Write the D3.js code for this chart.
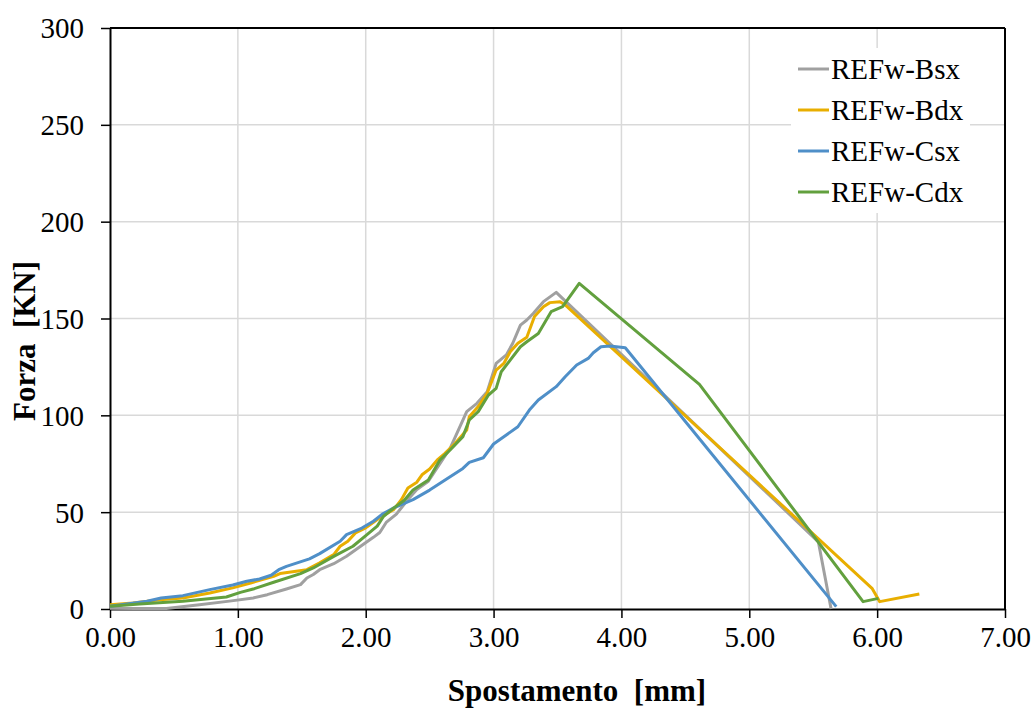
<!DOCTYPE html>
<html>
<head>
<meta charset="utf-8">
<script src="https://cdn.jsdelivr.net/npm/d3@7"></script>
<style>
  html, body { margin: 0; padding: 0; background: #fff; }
  svg { display: block; font-family: "Liberation Serif", "Times New Roman", serif; }
</style>
</head>
<body>
<svg id="chart" width="1035" height="708"></svg>
<script>
// Load–displacement curves of the four REFw specimens
const seriesNames = ["REFw-Bsx", "REFw-Bdx", "REFw-Csx", "REFw-Cdx"];
const seriesColors = ["#A0A0A0", "#E8AE00", "#4F8FC8", "#62A03E"];

const bsxX = [0, 0.20, 0.44, 0.70, 0.95, 1.12, 1.23, 1.38, 1.49, 1.54, 1.59, 1.64, 1.75, 1.85, 1.96, 2.06, 2.11, 2.16, 2.24, 2.33, 2.40, 2.49, 2.53, 2.66, 2.79, 2.87, 2.95, 3.02, 3.10, 3.15, 3.21, 3.26, 3.31, 3.39, 3.49, 5.54, 5.64];
const bsxY = [0.4, 0.2, 0.3, 2.2, 4.2, 5.7, 7.4, 10.3, 12.6, 16.0, 17.8, 20.3, 23.4, 27.2, 32.4, 37.0, 39.5, 44.7, 49.0, 56.5, 61.7, 66.0, 70.0, 83.0, 101.9, 106.2, 112.2, 126.8, 131.2, 137.2, 146.6, 149.2, 152.6, 158.7, 163.5, 34.7, 0];

const bdxX = [0, 0.18, 0.39, 0.57, 0.78, 0.96, 1.10, 1.28, 1.33, 1.54, 1.64, 1.75, 1.80, 1.86, 1.92, 2.00, 2.11, 2.22, 2.28, 2.33, 2.40, 2.44, 2.50, 2.56, 2.62, 2.70, 2.79, 2.81, 2.88, 2.95, 3.02, 3.08, 3.13, 3.19, 3.26, 3.32, 3.39, 3.44, 3.52, 3.56, 5.96, 6.02, 6.33];
const bdxY = [2.2, 3.1, 4.8, 5.7, 8.3, 10.9, 13.4, 16.9, 18.3, 20.3, 23.8, 28.1, 32.4, 35.0, 39.3, 41.9, 47.1, 51.4, 56.6, 62.5, 65.5, 69.3, 72.3, 77.0, 80.4, 85.6, 92.4, 99.3, 104.5, 111.4, 123.4, 126.8, 132.8, 137.2, 140.3, 151.0, 156.1, 158.2, 158.7, 157.0, 10.7, 3.8, 7.7];

const csxX = [0, 0.29, 0.40, 0.57, 0.78, 0.96, 1.07, 1.17, 1.26, 1.32, 1.38, 1.56, 1.64, 1.80, 1.85, 1.97, 2.06, 2.13, 2.22, 2.37, 2.50, 2.76, 2.81, 2.92, 3.00, 3.19, 3.28, 3.35, 3.49, 3.56, 3.65, 3.74, 3.78, 3.84, 3.91, 4.03, 5.68];
const csxY = [1.4, 4.0, 5.7, 6.9, 10.0, 12.4, 14.3, 15.5, 17.4, 20.3, 22.0, 25.9, 28.6, 35.0, 38.4, 41.8, 45.3, 49.0, 52.2, 56.5, 61.4, 72.6, 75.7, 78.1, 85.2, 94.1, 102.7, 107.9, 114.8, 119.9, 126.0, 129.4, 132.3, 135.4, 135.8, 134.9, 1.2];

const cdxX = [0, 0.23, 0.57, 0.91, 1.02, 1.12, 1.28, 1.49, 1.59, 1.75, 1.90, 2.01, 2.09, 2.14, 2.22, 2.30, 2.37, 2.49, 2.58, 2.66, 2.76, 2.81, 2.88, 2.96, 3.02, 3.06, 3.13, 3.21, 3.26, 3.35, 3.45, 3.54, 3.67, 4.61, 5.89, 6.01];
const cdxY = [1.4, 2.6, 4.0, 6.2, 8.6, 10.3, 13.8, 18.3, 21.2, 27.2, 32.4, 38.4, 42.8, 47.9, 52.2, 56.0, 61.4, 66.6, 76.9, 82.1, 89.0, 97.6, 101.9, 110.5, 113.9, 122.5, 128.5, 135.4, 138.0, 142.3, 153.5, 156.1, 168.1, 116.0, 3.8, 5.5];

const xTicks = [0, 1, 2, 3, 4, 5, 6, 7];
const yTicks = [0, 50, 100, 150, 200, 250, 300];
const xTitle = "Spostamento\u00A0\u00A0[mm]";
const yTitle = "Forza\u00A0\u00A0[KN]";

const seriesX = [bsxX, bdxX, csxX, cdxX];
const seriesY = [bsxY, bdxY, csxY, cdxY];

const plot = { left: 110, right: 1005, top: 28, bottom: 609 };
const svg = d3.select("#chart");

const x = d3.scaleLinear().domain([0, 7]).range([plot.left, plot.right]);
const y = d3.scaleLinear().domain([0, 300]).range([plot.bottom, plot.top]);

// Gridlines
const grid = svg.append("g");
grid.selectAll("line.v").data(xTicks.slice(1)).join("line")
  .attr("x1", d => x(d)).attr("x2", d => x(d))
  .attr("y1", plot.top).attr("y2", plot.bottom)
  .attr("stroke", "#D9D9D9").attr("stroke-width", 1.5);
grid.selectAll("line.h").data(yTicks.slice(1)).join("line")
  .attr("x1", plot.left).attr("x2", plot.right)
  .attr("y1", d => y(d)).attr("y2", d => y(d))
  .attr("stroke", "#D9D9D9").attr("stroke-width", 1.5);

// Axes
const xAxis = d3.axisBottom(x).tickValues(xTicks).tickFormat(d3.format(".2f"))
  .tickSizeInner(9).tickSizeOuter(0).tickPadding(8);
const yAxis = d3.axisLeft(y).tickValues(yTicks).tickFormat(d3.format("d"))
  .tickSizeInner(9).tickSizeOuter(0).tickPadding(17);

const gx = svg.append("g").attr("transform", `translate(0,${plot.bottom})`).call(xAxis);
const gy = svg.append("g").attr("transform", `translate(${plot.left},0)`).call(yAxis);
[gx, gy].forEach(g => {
  g.select(".domain").attr("stroke", "#000").attr("stroke-width", 2);
  g.selectAll(".tick line").attr("stroke", "#000").attr("stroke-width", 1.5);
  g.selectAll(".tick text").attr("fill", "#000")
    .style("font-family", "'Liberation Serif', 'Times New Roman', serif")
    .style("font-size", "29px");
});
gy.selectAll(".tick text").attr("dy", "0.34em");

// Top and right frame
svg.append("line").attr("x1", plot.left).attr("x2", plot.right)
  .attr("y1", plot.top).attr("y2", plot.top).attr("stroke", "#000").attr("stroke-width", 2);
svg.append("line").attr("x1", plot.right).attr("x2", plot.right)
  .attr("y1", plot.top).attr("y2", plot.bottom).attr("stroke", "#000").attr("stroke-width", 2);

// Axis titles
svg.append("text").attr("x", 577).attr("y", 701).attr("text-anchor", "middle")
  .style("font-size", "31px").style("font-weight", "bold").text(xTitle);
svg.append("text").attr("transform", "translate(35,341) rotate(-90)").attr("text-anchor", "middle")
  .style("font-size", "31px").style("font-weight", "bold").text(yTitle);

// Curves
const line = d3.line().x(d => x(d[0])).y(d => y(d[1]));
seriesNames.forEach((name, i) => {
  const pts = seriesX[i].map((v, k) => [v, seriesY[i][k]]);
  svg.append("path").datum(pts)
    .attr("d", line)
    .attr("fill", "none")
    .attr("stroke", seriesColors[i])
    .attr("stroke-width", 3)
    .attr("stroke-linejoin", "round");
});

// Legend
const legend = svg.append("g");
legend.append("rect").attr("x", 791).attr("y", 48).attr("width", 179).attr("height", 165).attr("fill", "#fff");
seriesNames.forEach((name, i) => {
  const cy = 69 + i * 41;
  legend.append("line").attr("x1", 798).attr("x2", 829).attr("y1", cy).attr("y2", cy)
    .attr("stroke", seriesColors[i]).attr("stroke-width", 3);
  legend.append("text").attr("x", 831).attr("y", cy + 10)
    .style("font-size", "29px").attr("fill", "#000").text(name);
});
</script>
</body>
</html>
